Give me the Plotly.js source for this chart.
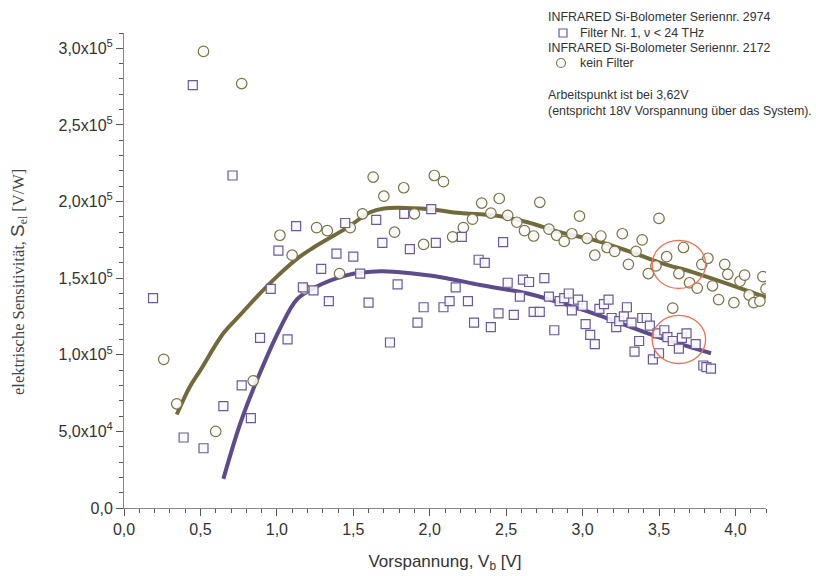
<!DOCTYPE html>
<html>
<head>
<meta charset="utf-8">
<script src="https://cdn.plot.ly/plotly-3.0.1.min.js"></script>
<style>html,body{margin:0;padding:0;background:#fff}#chart{width:816px;height:576px}</style>
</head>
<body>
<div id="chart"></div>
<script>
// Filter Nr. 1 (squares), Serie 2974
const sqX = [0.19,0.39,0.45,0.52,0.65,0.71,0.77,0.83,0.89,0.96,1.01,1.07,1.126,1.17,1.24,1.29,1.34,1.39,1.447,1.50,1.545,1.60,1.65,1.69,1.74,1.79,1.833,1.87,1.92,1.96,2.01,2.04,2.09,2.13,2.17,2.21,2.25,2.29,2.32,2.36,2.40,2.45,2.48,2.51,2.55,2.59,2.61,2.65,2.68,2.72,2.75,2.78,2.815,2.85,2.88,2.91,2.93,2.97,3.00,3.02,3.05,3.08,3.11,3.14,3.17,3.19,3.22,3.24,3.27,3.29,3.32,3.34,3.37,3.39,3.42,3.44,3.46,3.49,3.50,3.535,3.555,3.59,3.63,3.65,3.68,3.74,3.79,3.81,3.84];
const sqY = [1.37,0.46,2.76,0.39,0.665,2.17,0.80,0.587,1.11,1.43,1.68,1.10,1.84,1.44,1.42,1.56,1.35,1.66,1.86,1.64,1.53,1.34,1.88,1.73,1.08,1.46,1.92,1.69,1.21,1.31,1.95,1.73,1.31,1.35,1.44,1.77,1.35,1.21,1.62,1.60,1.18,1.27,1.735,1.47,1.26,1.38,1.49,1.475,1.28,1.28,1.50,1.38,1.16,1.35,1.37,1.40,1.29,1.36,1.32,1.20,1.13,1.07,1.30,1.33,1.36,1.24,1.18,1.22,1.25,1.31,1.21,1.02,1.09,1.24,1.24,1.19,0.97,1.14,1.01,1.16,1.115,1.09,1.04,1.11,1.14,1.07,0.93,0.92,0.91];
// kein Filter (circles), Serie 2172
const ciX = [0.26,0.345,0.52,0.60,0.77,0.845,1.02,1.10,1.18,1.26,1.33,1.41,1.48,1.56,1.63,1.70,1.77,1.83,1.90,1.96,2.03,2.09,2.15,2.22,2.28,2.34,2.40,2.455,2.51,2.57,2.62,2.68,2.72,2.78,2.83,2.88,2.93,2.98,3.03,3.08,3.12,3.16,3.21,3.26,3.30,3.35,3.39,3.43,3.48,3.50,3.55,3.59,3.63,3.66,3.70,3.75,3.78,3.82,3.85,3.89,3.93,3.95,3.99,4.03,4.06,4.09,4.12,4.16,4.18,4.20];
const ciY = [0.97,0.68,2.98,0.50,2.77,0.83,1.78,1.65,1.43,1.83,1.81,1.53,1.83,1.92,2.16,2.035,1.80,2.09,1.92,1.72,2.17,2.13,1.77,1.83,1.885,1.99,1.925,2.02,1.91,1.865,1.81,1.775,1.995,1.82,1.78,1.74,1.79,1.905,1.76,1.65,1.775,1.70,1.675,1.79,1.59,1.675,1.75,1.53,1.58,1.89,1.64,1.305,1.53,1.70,1.47,1.435,1.59,1.63,1.45,1.36,1.59,1.525,1.34,1.48,1.52,1.39,1.34,1.35,1.51,1.43];
// fit curves
const fitCiX = [0.345,0.43,0.50,0.65,0.76,0.87,1.00,1.15,1.24,1.46,1.61,1.70,1.79,2.00,2.20,2.42,2.64,2.85,3.07,3.29,3.51,3.75,4.20];
const fitCiY = [0.61,0.79,0.90,1.14,1.26,1.38,1.51,1.64,1.70,1.83,1.93,1.955,1.96,1.95,1.925,1.91,1.865,1.80,1.75,1.68,1.60,1.53,1.375];
const fitSqX = [0.65,0.76,0.87,1.02,1.13,1.24,1.46,1.68,1.89,2.11,2.33,2.64,2.85,3.07,3.29,3.51,3.84];
const fitSqY = [0.19,0.55,0.835,1.17,1.36,1.435,1.52,1.545,1.53,1.50,1.455,1.40,1.34,1.27,1.19,1.11,1.01];
// marked operating point regions
const markX = [3.63, 3.63];
const markY = [1.59, 1.10];
// ticks
const xTickVals = [0,0.5,1,1.5,2,2.5,3,3.5,4];
const xTickText = ["0,0","0,5","1,0","1,5","2,0","2,5","3,0","3,5","4,0"];
const yTickVals = [0,0.5,1,1.5,2,2.5,3];
const yTickText = ["0,0","5,0x10<sup>4</sup>","1,0x10<sup>5</sup>","1,5x10<sup>5</sup>","2,0x10<sup>5</sup>","2,5x10<sup>5</sup>","3,0x10<sup>5</sup>"];
const SCALE = 1e5;

const olive = '#736a3c', purple = '#5d4b8c';
const sc = a => a.map(v => v*SCALE);

const traces = [
  {x: fitCiX, y: sc(fitCiY), mode:'lines', line:{color:olive, width:4, shape:'spline', smoothing:1}, showlegend:false, hoverinfo:'skip'},
  {x: fitSqX, y: sc(fitSqY), mode:'lines', line:{color:purple, width:4, shape:'spline', smoothing:1}, showlegend:false, hoverinfo:'skip'},
  {x: ciX, y: sc(ciY), mode:'markers', marker:{symbol:'circle', size:10.5, color:'rgba(250,250,248,0.9)', line:{color:'#7a7145', width:1.2}}, showlegend:false},
  {x: sqX, y: sc(sqY), mode:'markers', marker:{symbol:'square', size:9, color:'rgba(250,250,250,0.9)', line:{color:'#6a5a9c', width:1.2}}, showlegend:false}
];

const rx = 0.175, ry = 0.157;
const shapes = markX.map((cx,i) => ({type:'circle', xref:'x', yref:'y', x0:cx-rx, x1:cx+rx, y0:(markY[i]-ry)*SCALE, y1:(markY[i]+ry)*SCALE, line:{color:'#f07050', width:1.3}}));
const px = v => (v-124)/642, py = v => 1+(33-v)/475;
// legend symbols
shapes.push({type:'rect', xref:'paper', yref:'paper', xsizemode:'pixel', ysizemode:'pixel', xanchor:px(563), yanchor:py(33), x0:-4, x1:4, y0:-4, y1:4, line:{color:'#6a5a9c', width:1.2}});
shapes.push({type:'circle', xref:'paper', yref:'paper', xsizemode:'pixel', ysizemode:'pixel', xanchor:px(561), yanchor:py(63), x0:-4.5, x1:4.5, y0:-4.5, y1:4.5, line:{color:'#7a7145', width:1.2}});

const lf = {family:'Liberation Sans, Arial, sans-serif', size:12.4, color:'#333'};
const ann = (t,x,y) => ({text:t, xref:'paper', yref:'paper', x:px(x), y:py(y), xanchor:'left', yanchor:'middle', showarrow:false, font:lf});
const annotations = [
  ann('INFRARED Si-Bolometer Seriennr. 2974', 546, 17),
  ann('Filter Nr. 1, ν &lt; 24 THz', 578, 33),
  ann('INFRARED Si-Bolometer Seriennr. 2172', 546, 48),
  ann('kein Filter', 578, 63),
  ann('Arbeitspunkt ist bei 3,62V', 546, 95),
  ann('(entspricht 18V Vorspannung über das System).', 546, 111),
  {text:'elektrische Sensitivität, <span style="font-family:Liberation Sans, Arial, sans-serif;font-size:19px">S</span><sub>el</sub> [V/W]',
   xref:'paper', yref:'paper', x:px(18), y:py(282), xanchor:'center', yanchor:'middle', textangle:-90, showarrow:false,
   font:{family:'Liberation Serif, Times New Roman, serif', size:16.5, color:'#444'}}
];

const axisCommon = {showline:true, linecolor:'#888', linewidth:1, ticks:'outside', ticklen:7, tickwidth:1, tickcolor:'#555', showgrid:false, zeroline:false,
  tickfont:{family:'Liberation Sans, Arial, sans-serif', size:16, color:'#333'}};

const layout = {
  width:816, height:576,
  margin:{l:124, r:50, t:33, b:68, pad:0},
  paper_bgcolor:'#fff', plot_bgcolor:'#fff',
  showlegend:false,
  xaxis: Object.assign({}, axisCommon, {range:[0,4.2], tickvals:xTickVals, ticktext:xTickText,
    minor:{dtick:0.1, tick0:0, ticks:'outside', ticklen:4, tickcolor:'#555'},
    title:{text:'Vorspannung, V<sub>b</sub> [V]', font:{family:'Liberation Sans, Arial, sans-serif', size:17, color:'#333'}, standoff:17}}),
  yaxis: Object.assign({}, axisCommon, {range:[0,3.1e5], tickvals:sc(yTickVals), ticktext:yTickText,
    minor:{dtick:1e4, tick0:0, ticks:'outside', ticklen:4, tickcolor:'#555'}}),
  shapes: shapes,
  annotations: annotations
};

Plotly.newPlot('chart', traces, layout, {displayModeBar:false, staticPlot:true});
</script>
</body>
</html>
